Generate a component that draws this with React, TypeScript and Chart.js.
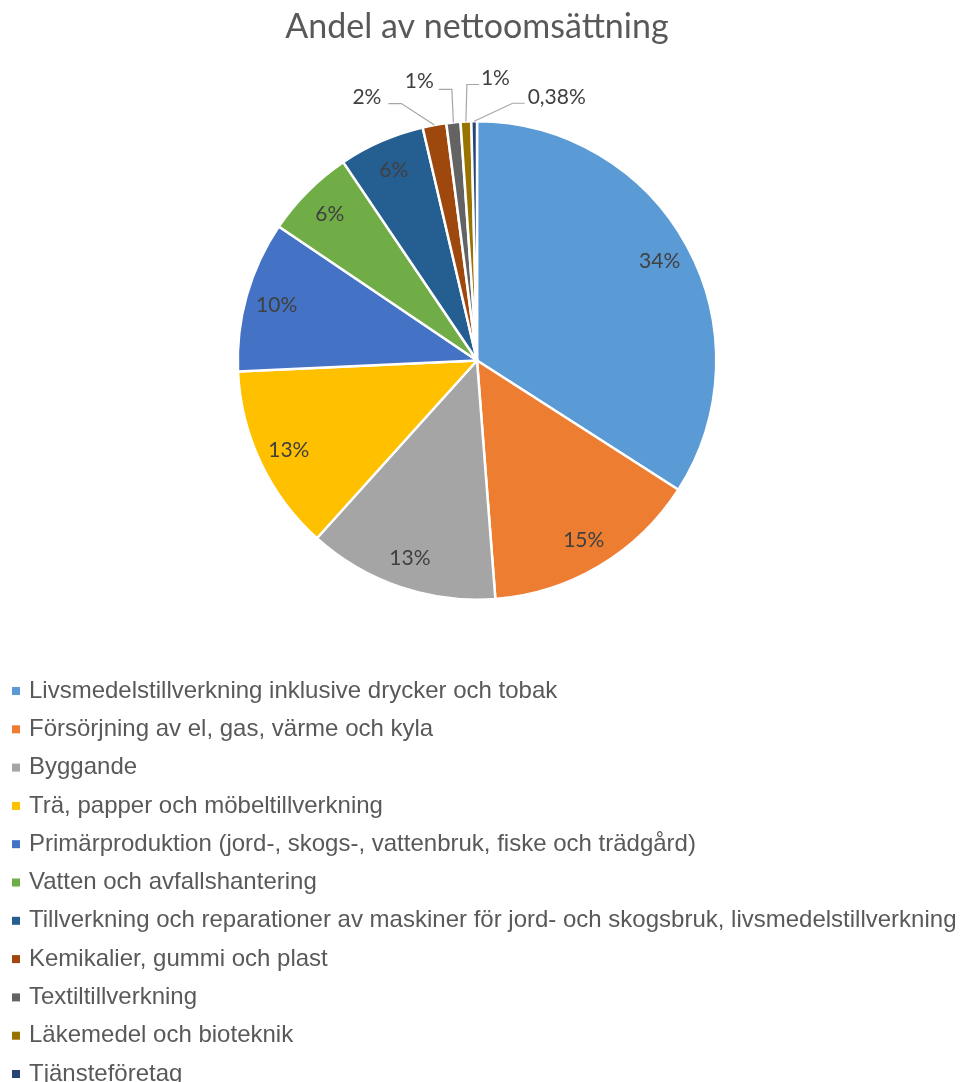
import React, { useEffect, useRef } from 'react';
import { Chart, registerables } from 'chart.js';

Chart.register(...registerables);

const TITLE = 'Andel av nettoomsättning';

const categories = [
  'Livsmedelstillverkning inklusive drycker och tobak',
  'Försörjning av el, gas, värme och kyla',
  'Byggande',
  'Trä, papper och möbeltillverkning',
  'Primärproduktion (jord-, skogs-, vattenbruk, fiske och trädgård)',
  'Vatten och avfallshantering',
  'Tillverkning och reparationer av maskiner för jord- och skogsbruk, livsmedelstillverkning',
  'Kemikalier, gummi och plast',
  'Textiltillverkning',
  'Läkemedel och bioteknik',
  'Tjänsteföretag',
];

const shares = [34.1, 14.7, 12.9, 12.6, 10.2, 6.1, 5.8, 1.6, 0.95, 0.72, 0.38];

const colors = [
  '#5B9BD5', '#ED7D31', '#A5A5A5', '#FFC000', '#4472C4', '#70AD47',
  '#255E91', '#9E480E', '#636363', '#997300', '#264478',
];

// Leader-line styling for labels placed outside the pie (null = label inside)
const outsideLabels: (null | { dx: number; dy: number; side: number; len: number; gap: number; ty: number })[] = [
  null, null, null, null, null, null, null,
  { dx: -33, dy: -21.5, side: -1, len: 13, gap: 7, ty: -6 },
  { dx: -1.5, dy: -33, side: -1, len: 13, gap: 5, ty: -8 },
  { dx: 1, dy: -37, side: 1, len: 12, gap: 2, ty: -6 },
  { dx: 38.5, dy: -18, side: 1, len: 12, gap: 3, ty: -6 },
];

const LABEL_FONT = '21px Lato, "Open Sans", sans-serif';
const LEGEND_FONT = '24px "Liberation Sans", Arial, sans-serif';
const LEGEND_PAD_BOTTOM = 481;

const labelPlugin = {
  id: 'pieLabels',
  afterDatasetsDraw(chart: any) {
    const ctx = chart.ctx;
    const meta = chart.getDatasetMeta(0);
    const total = shares.reduce((a, b) => a + b, 0);
    ctx.save();
    ctx.font = LABEL_FONT;
    ctx.fillStyle = '#404040';
    ctx.textBaseline = 'middle';
    meta.data.forEach((arc: any, i: number) => {
      const { x, y, startAngle, endAngle, outerRadius } = arc.getProps(
        ['x', 'y', 'startAngle', 'endAngle', 'outerRadius'],
        true
      );
      const mid = (startAngle + endAngle) / 2;
      const pct = (shares[i] / total) * 100;
      const text = pct >= 0.5 ? Math.round(pct) + '%' : pct.toFixed(2).replace('.', ',') + '%';
      const o = outsideLabels[i];
      if (!o) {
        const r = outerRadius * 0.87;
        ctx.textAlign = 'center';
        ctx.fillText(text, x + Math.cos(mid) * r, y + Math.sin(mid) * r + 1);
      } else {
        const ax = x + Math.cos(mid) * outerRadius;
        const ay = y + Math.sin(mid) * outerRadius;
        const ex = ax + o.dx;
        const ey = ay + o.dy;
        const hx = ex + o.side * o.len;
        ctx.strokeStyle = '#A6A6A6';
        ctx.lineWidth = 1.2;
        ctx.beginPath();
        ctx.moveTo(ax, ay);
        ctx.lineTo(ex, ey);
        ctx.lineTo(hx, ey);
        ctx.stroke();
        ctx.textAlign = o.side < 0 ? 'right' : 'left';
        ctx.fillText(text, hx + o.side * o.gap, ey + o.ty);
      }
    });
    ctx.restore();
  },
};

// One legend entry per row, left aligned, below the pie
const legendPlugin = {
  id: 'rowLegend',
  afterDraw(chart: any) {
    const ctx = chart.ctx;
    const area = chart.chartArea;
    const firstY = area.bottom + 90;
    const step = 38.3;
    const boxX = area.left + 18;
    ctx.save();
    ctx.font = LEGEND_FONT;
    ctx.textBaseline = 'middle';
    ctx.textAlign = 'left';
    categories.forEach((label, i) => {
      const cy = firstY + i * step;
      ctx.fillStyle = colors[i];
      ctx.fillRect(boxX, cy - 4, 8, 8);
      ctx.fillStyle = '#595959';
      ctx.fillText(label, boxX + 17, cy);
    });
    ctx.restore();
  },
};

export default function App() {
  const ref = useRef<HTMLCanvasElement | null>(null);

  useEffect(() => {
    if (!ref.current) return;
    const chart = new Chart(ref.current, {
      type: 'pie',
      data: {
        labels: categories,
        datasets: [
          {
            data: shares,
            backgroundColor: colors,
            borderColor: '#FFFFFF',
            borderWidth: 2.5,
          },
        ],
      },
      options: {
        responsive: false,
        animation: false,
        events: [],
        layout: { padding: { top: 0, left: 0, right: 0, bottom: LEGEND_PAD_BOTTOM } },
        plugins: {
          title: {
            display: true,
            text: TITLE,
            color: '#595959',
            font: { family: 'Lato, "Open Sans", sans-serif', size: 34, weight: 'normal' },
            padding: { top: 7, bottom: 72.2 },
          },
          legend: { display: false },
          tooltip: { enabled: false },
        },
      } as any,
      plugins: [labelPlugin, legendPlugin],
    });
    return () => chart.destroy();
  }, []);

  return (
    <div
      style={{
        position: 'absolute',
        left: 0,
        top: 0,
        width: 960,
        height: 1082,
        overflow: 'hidden',
        background: '#FFFFFF',
      }}
    >
      <canvas
        ref={ref}
        width={966}
        height={1082}
        style={{ position: 'absolute', left: -6, top: 0, width: 966, height: 1082 }}
      />
    </div>
  );
}
